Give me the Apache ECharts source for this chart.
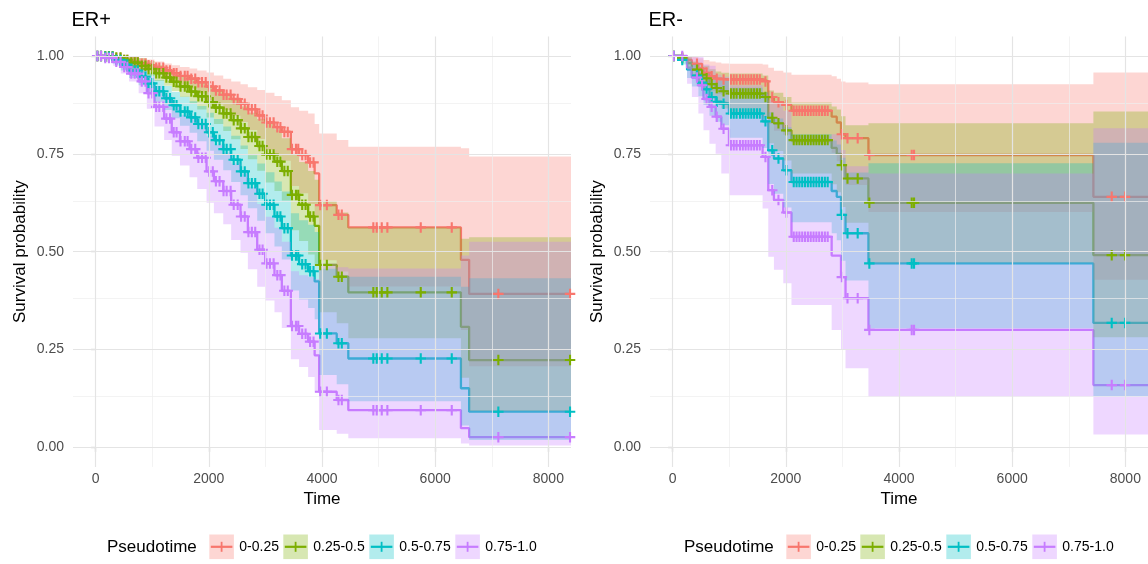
<!DOCTYPE html>
<html>
<head>
<meta charset="utf-8">
<script src="https://cdn.jsdelivr.net/npm/echarts@6/dist/echarts.min.js"></script>
<style>
  html, body { margin: 0; padding: 0; background: #fff; }
  #chart { width: 1148px; height: 564px; }
</style>
</head>
<body>
<div id="chart"></div>
<script>
// Kaplan-Meier survival by pseudotime group, ER+ and ER- cohorts.
const GROUPS = ['0-0.25', '0.25-0.5', '0.5-0.75', '0.75-1.0'];
const COLORS = ['#F8766D', '#7CAE00', '#00BFC4', '#C77CFF'];
const FILLS = ['rgba(248,118,109,0.3)', 'rgba(124,174,0,0.3)', 'rgba(0,191,196,0.3)', 'rgba(199,124,255,0.3)'];
const X_TICKS = [0, 2000, 4000, 6000, 8000];
const X_MINOR = [1000, 3000, 5000, 7000];
const Y_TICKS = [0, 0.25, 0.5, 0.75, 1];
const Y_MINOR = [0.125, 0.375, 0.625, 0.875];
const END_TIME = 8400;

// ---- ER+ : event times, censoring times, survival estimate with 95% band ----
const posTime = [0, 140, 310, 445, 590, 760, 905, 1040, 1210, 1345, 1490, 1660, 1795, 1960, 2090, 2255, 2395, 2560, 2690, 2855, 2995, 3160, 3290, 3450, 3595, 3755, 3870, 3950, 4260, 4465, 6455, 6600];
const posCensor = [30, 95, 170, 235, 300, 365, 440, 505, 560, 630, 690, 745, 815, 880, 935, 1000, 1070, 1125, 1195, 1250, 1315, 1380, 1430, 1500, 1575, 1625, 1690, 1760, 1815, 1880, 1945, 2005, 2070, 2125, 2190, 2260, 2315, 2385, 2440, 2510, 2570, 2635, 2700, 2760, 2820, 2895, 2950, 3020, 3080, 3145, 3210, 3265, 3335, 3395, 3470, 3540, 3580, 3650, 3710, 3790, 3850, 3968, 4086, 4291, 4350, 4907, 4967, 5056, 5155, 5745, 6293, 7116, 8383];

const posSurvA  = [1, .998, .995, .99, .985, .98, .976, .97, .963, .956, .949, .942, .933, .922, .912, .901, .89, .878, .864, .848, .83, .818, .806, .762, .747, .728, .70, .619, .594, .562, .479, .392];
const posUpperA = [1, 1, 1, 1, .998, .995, .991, .986, .981, .976, .972, .968, .963, .958, .95, .942, .935, .928, .92, .913, .906, .898, .887, .869, .86, .853, .826, .802, .785, .768, .764, .743];
const posLowerA = [1, .996, .99, .98, .972, .965, .961, .954, .945, .936, .927, .917, .904, .887, .876, .862, .847, .831, .811, .788, .76, .745, .732, .668, .649, .622, .593, .478, .449, .411, .30, .207];

const posSurvB  = [1, .999, .996, .99, .983, .975, .967, .956, .945, .934, .922, .909, .897, .882, .868, .853, .836, .815, .793, .77, .748, .73, .706, .645, .62, .59, .566, .466, .436, .396, .308, .223];
const posUpperB = [1, 1, 1, 1, .999, .994, .987, .976, .967, .959, .95, .94, .933, .923, .912, .9, .888, .871, .855, .839, .827, .813, .79, .749, .729, .706, .684, .629, .6, .562, .533, .537];
const posLowerB = [1, .996, .99, .978, .967, .957, .948, .936, .924, .91, .895, .879, .863, .843, .826, .808, .787, .762, .736, .707, .677, .655, .631, .555, .527, .493, .468, .345, .317, .279, .178, .093];

const posSurvC  = [1, .998, .99, .978, .963, .947, .93, .91, .892, .874, .858, .843, .826, .805, .785, .762, .735, .705, .675, .648, .62, .59, .56, .49, .468, .45, .424, .291, .266, .227, .151, .091];
const posUpperC = [1, 1, 1, .993, .982, .97, .955, .938, .923, .908, .896, .884, .872, .855, .839, .82, .796, .771, .746, .725, .703, .679, .654, .598, .58, .569, .55, .456, .439, .436, .41, .432];
const posLowerC = [1, .994, .98, .963, .944, .925, .905, .883, .862, .841, .822, .804, .782, .758, .735, .708, .678, .644, .611, .579, .547, .513, .48, .401, .378, .356, .327, .185, .161, .118, .056, .019];

const posSurvD  = [1, .995, .985, .972, .955, .935, .905, .87, .84, .805, .782, .762, .74, .705, .68, .655, .62, .59, .55, .505, .47, .44, .40, .31, .29, .27, .235, .142, .121, .095, .049, .026];
const posUpperD = [1, 1, .995, .989, .975, .966, .947, .923, .899, .87, .849, .841, .83, .795, .773, .753, .725, .70, .665, .622, .589, .561, .525, .45, .44, .435, .43, .47, .46, .457, .49, .525];
const posLowerD = [1, .99, .975, .955, .935, .905, .865, .82, .785, .745, .72, .69, .66, .625, .598, .57, .53, .497, .455, .41, .375, .345, .305, .225, .205, .18, .14, .044, .035, .023, .01, .005];

// ---- ER- ----
const negTime = [0, 160, 255, 340, 455, 545, 650, 760, 860, 995, 1590, 1690, 1790, 1955, 2100, 2810, 2900, 2975, 3055, 3460, 7435];
const negCensor = [20, 170, 430, 520, 600, 690, 780, 900, 1030, 1080, 1130, 1190, 1240, 1290, 1340, 1390, 1440, 1490, 1540, 1640, 1760, 1870, 2010, 2140, 2190, 2240, 2290, 2340, 2390, 2440, 2490, 2540, 2590, 2640, 2690, 2740, 2990, 3090, 3270, 3476, 4225, 4266, 7759, 7994];

const negSurvA  = [1, .997, .99, .98, .968, .957, .948, .942, .94, .94, .935, .895, .882, .875, .86, .845, .83, .80, .79, .747, .64];
const negUpperA = [1, 1, 1, .998, .994, .99, .986, .983, .981, .98, .978, .97, .962, .958, .952, .948, .942, .935, .932, .928, .958];
const negLowerA = [1, .994, .98, .962, .943, .925, .911, .903, .90, .90, .894, .826, .809, .799, .777, .753, .731, .684, .67, .601, .428];

const negSurvB  = [1, .995, .982, .965, .952, .943, .928, .918, .91, .904, .895, .842, .828, .81, .785, .765, .75, .721, .687, .625, .491];
const negUpperB = [1, 1, .997, .986, .979, .975, .966, .96, .957, .955, .95, .912, .906, .895, .881, .871, .863, .846, .823, .828, .858];
const negLowerB = [1, .987, .967, .944, .926, .912, .892, .878, .866, .856, .843, .777, .757, .733, .70, .672, .652, .614, .574, .472, .281];

const negSurvC  = [1, .99, .965, .95, .932, .915, .895, .883, .878, .853, .833, .759, .738, .708, .678, .655, .64, .594, .547, .47, .318];
const negUpperC = [1, 1, .986, .979, .968, .957, .946, .938, .937, .919, .907, .856, .84, .818, .80, .784, .774, .74, .702, .726, .778];
const negLowerC = [1, .978, .944, .922, .897, .875, .847, .832, .823, .791, .765, .673, .648, .613, .575, .547, .529, .477, .426, .304, .13];

const negSurvD  = [1, 1, .97, .945, .925, .89, .87, .845, .814, .772, .742, .657, .632, .60, .538, .49, .49, .435, .381, .30, .159];
const negUpperD = [1, 1, 1, .997, 1, .978, .975, .952, .947, .925, .903, .887, .879, .86, .795, .80, .80, .76, .718, .70, .815];
const negLowerD = [1, .99, .929, .895, .853, .81, .776, .75, .70, .644, .61, .487, .454, .419, .364, .30, .30, .249, .202, .129, .033];

const FONT = '"Liberation Sans", Arial, Helvetica, sans-serif';
// plus-shaped censoring mark
const PLUS = 'path://M4,0H6V4H10V6H6V10H4V6H0V4H4Z';

const panels = [
  { title: 'ER+', time: posTime, censor: posCensor,
    surv: [posSurvA, posSurvB, posSurvC, posSurvD],
    upper: [posUpperA, posUpperB, posUpperC, posUpperD],
    lower: [posLowerA, posLowerB, posLowerC, posLowerD] },
  { title: 'ER-', time: negTime, censor: negCensor,
    surv: [negSurvA, negSurvB, negSurvC, negSurvD],
    upper: [negUpperA, negUpperB, negUpperC, negUpperD],
    lower: [negLowerA, negLowerB, negLowerC, negLowerD] }
];

const GRID_LEFT = [73, 650];
const SHIFT = [0, 577];

function survAt(time, surv, t) {
  let v = surv[0];
  for (let i = 0; i < time.length; i++) {
    if (time[i] <= t) v = surv[i]; else break;
  }
  return v;
}

function stepData(time, surv) {
  const d = time.map((t, i) => [t, surv[i]]);
  d.push([END_TIME, surv[surv.length - 1]]);
  return d;
}

function bandSeries(p, time, upper, lower, fill) {
  return {
    type: 'custom', xAxisIndex: p, yAxisIndex: p, z: 3, silent: true,
    data: [[0, 0]],
    renderItem: function (params, api) {
      const pts = [];
      const n = time.length;
      for (let i = 0; i < n; i++) {
        const t1 = i + 1 < n ? time[i + 1] : END_TIME;
        pts.push(api.coord([time[i], upper[i]]), api.coord([t1, upper[i]]));
      }
      for (let i = n - 1; i >= 0; i--) {
        const t1 = i + 1 < n ? time[i + 1] : END_TIME;
        pts.push(api.coord([t1, lower[i]]), api.coord([time[i], lower[i]]));
      }
      return { type: 'polygon', shape: { points: pts }, style: { fill: fill } };
    }
  };
}

function gridLineSeries(p) {
  const major = { color: '#E4E4E4', width: 1.2, type: 'solid' };
  const minor = { color: '#EEEEEE', width: 0.7, type: 'solid' };
  const data = []
    .concat(X_MINOR.map(v => ({ xAxis: v, lineStyle: minor })))
    .concat(Y_MINOR.map(v => ({ yAxis: v, lineStyle: minor })))
    .concat(X_TICKS.map(v => ({ xAxis: v, lineStyle: major })))
    .concat(Y_TICKS.map(v => ({ yAxis: v, lineStyle: major })));
  return {
    type: 'line', xAxisIndex: p, yAxisIndex: p, data: [], z: 0, silent: true,
    markLine: { silent: true, symbol: ['none', 'none'], label: { show: false },
      emphasis: { disabled: true }, animation: false, data: data }
  };
}

const grids = [], xAxes = [], yAxes = [], series = [], titles = [], graphics = [];

panels.forEach((pn, p) => {
  grids.push({ left: GRID_LEFT[p], top: 36.4, width: 498, height: 430.5 });
  xAxes.push({
    type: 'value', gridIndex: p, min: -400, max: 8400,
    name: 'Time', nameLocation: 'middle', nameGap: 23,
    nameTextStyle: { fontSize: 17, color: '#000', fontFamily: FONT },
    axisLine: { show: false },
    axisTick: { show: true, length: 4.5, customValues: X_TICKS, lineStyle: { color: '#333', width: 1.1 } },
    axisLabel: { customValues: X_TICKS, fontSize: 14, color: '#4D4D4D', fontFamily: FONT, margin: 5,
      formatter: v => String(v) },
    splitLine: { show: false }
  });
  yAxes.push({
    type: 'value', gridIndex: p, min: -0.05, max: 1.05,
    name: 'Survival probability', nameLocation: 'middle', nameGap: 44,
    nameTextStyle: { fontSize: 17, color: '#000', fontFamily: FONT },
    axisLine: { show: false },
    axisTick: { show: true, length: 4.5, customValues: Y_TICKS, lineStyle: { color: '#333', width: 1.1 } },
    axisLabel: { customValues: Y_TICKS, fontSize: 14, color: '#4D4D4D', fontFamily: FONT, margin: 9,
      formatter: v => v.toFixed(2) },
    splitLine: { show: false }
  });
  titles.push({ text: pn.title, left: GRID_LEFT[p] - 1.5, top: 10, padding: 0,
    textStyle: { fontSize: 20, fontWeight: 'normal', color: '#000', fontFamily: FONT } });

  series.push(gridLineSeries(p));
  for (let g = 0; g < 4; g++) {
    series.push({
      type: 'line', name: GROUPS[g], xAxisIndex: p, yAxisIndex: p, z: 2,
      step: 'end', showSymbol: false, silent: true,
      lineStyle: { color: COLORS[g], width: 2.3 },
      data: stepData(pn.time, pn.surv[g])
    });
  }
  for (let g = 0; g < 4; g++) {
    series.push(bandSeries(p, pn.time, pn.upper[g], pn.lower[g], FILLS[g]));
  }
  for (let g = 0; g < 4; g++) {
    series.push({
      type: 'scatter', xAxisIndex: p, yAxisIndex: p, z: 4, silent: true,
      symbol: PLUS, symbolSize: 10.5,
      itemStyle: { color: COLORS[g], opacity: 1 },
      data: pn.censor.map(t => [t, survAt(pn.time, pn.surv[g], t)])
    });
  }

  // legend row under the panel
  const s = SHIFT[p];
  graphics.push({ type: 'text', x: 107 + s, y: 547,
    style: { text: 'Pseudotime', font: '17px ' + FONT, fill: '#000', verticalAlign: 'middle' } });
  const keyX = [209.3, 283.3, 369.3, 455.3];
  keyX.forEach((kx, g) => {
    const x = kx + s;
    graphics.push({ type: 'rect', shape: { x: x, y: 534.5, width: 24.6, height: 24.6 }, style: { fill: FILLS[g] } });
    graphics.push({ type: 'line', shape: { x1: x + 1.5, y1: 546.8, x2: x + 23.1, y2: 546.8 },
      style: { stroke: COLORS[g], lineWidth: 2.2 } });
    graphics.push({ type: 'line', shape: { x1: x + 12.3, y1: 541.8, x2: x + 12.3, y2: 551.8 },
      style: { stroke: COLORS[g], lineWidth: 1.8 } });
    graphics.push({ type: 'text', x: x + 30, y: 547,
      style: { text: GROUPS[g], font: '14px ' + FONT, fill: '#000', verticalAlign: 'middle' } });
  });
});

const chart = echarts.init(document.getElementById('chart'), null, { renderer: 'canvas' });
chart.setOption({
  animation: false,
  backgroundColor: '#fff',
  title: titles,
  grid: grids,
  xAxis: xAxes,
  yAxis: yAxes,
  series: series,
  graphic: { elements: graphics }
});
</script>
</body>
</html>
